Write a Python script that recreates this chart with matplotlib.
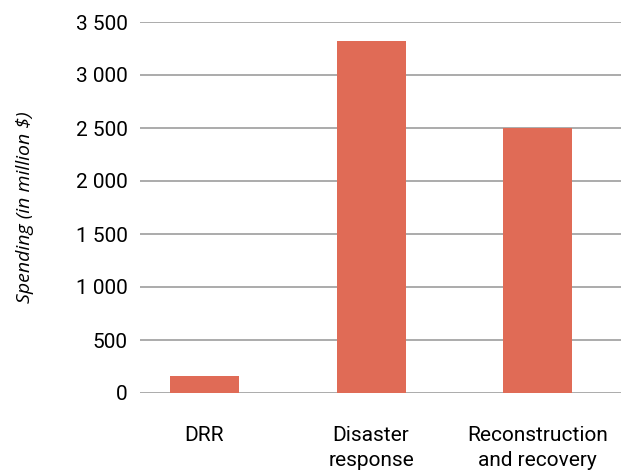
import matplotlib.pyplot as plt
from matplotlib import font_manager
from matplotlib.ticker import FuncFormatter

# Data
categories = ["DRR", "Disaster\nresponse", "Reconstruction\nand recovery"]
spending = [160, 3320, 2500]
y_ticks = [0, 500, 1000, 1500, 2000, 2500, 3000, 3500]

names = {f.name for f in font_manager.fontManager.ttflist}
font = "Liberation Sans Narrow" if "Liberation Sans Narrow" in names else "Roboto"
plt.rcParams['font.family'] = [font, 'DejaVu Sans']

fig = plt.figure(figsize=(6.21, 4.75), dpi=100)
ax = fig.add_axes([140 / 621, (475 - 393) / 475, (621 - 140) / 621, 371 / 475])

x = range(len(categories))
ax.bar(x, spending, width=0.414, color="#E06B56", zorder=3)

ax.set_xlim(-0.387, 2.5)
ax.set_ylim(0, 3500)
ax.set_yticks(y_ticks)
ax.yaxis.set_major_formatter(FuncFormatter(lambda v, p: f"{int(v):,}".replace(",", " ")))
ax.set_xticks(list(x))
ax.set_xticklabels(categories, linespacing=1.4, va="top")
ax.grid(axis="y", color="#ABABAB", linewidth=1.4, zorder=0)
ax.tick_params(axis="y", length=0, pad=9, labelsize=15)
ax.tick_params(axis="x", length=0, pad=24, labelsize=15)
for s in ax.spines.values():
    s.set_visible(False)

ax.set_ylabel("Spending (in million $)", fontsize=14, style="italic", labelpad=30,
              family=["Open Sans", "DejaVu Sans"])

fig.savefig("out.png", dpi=100)
